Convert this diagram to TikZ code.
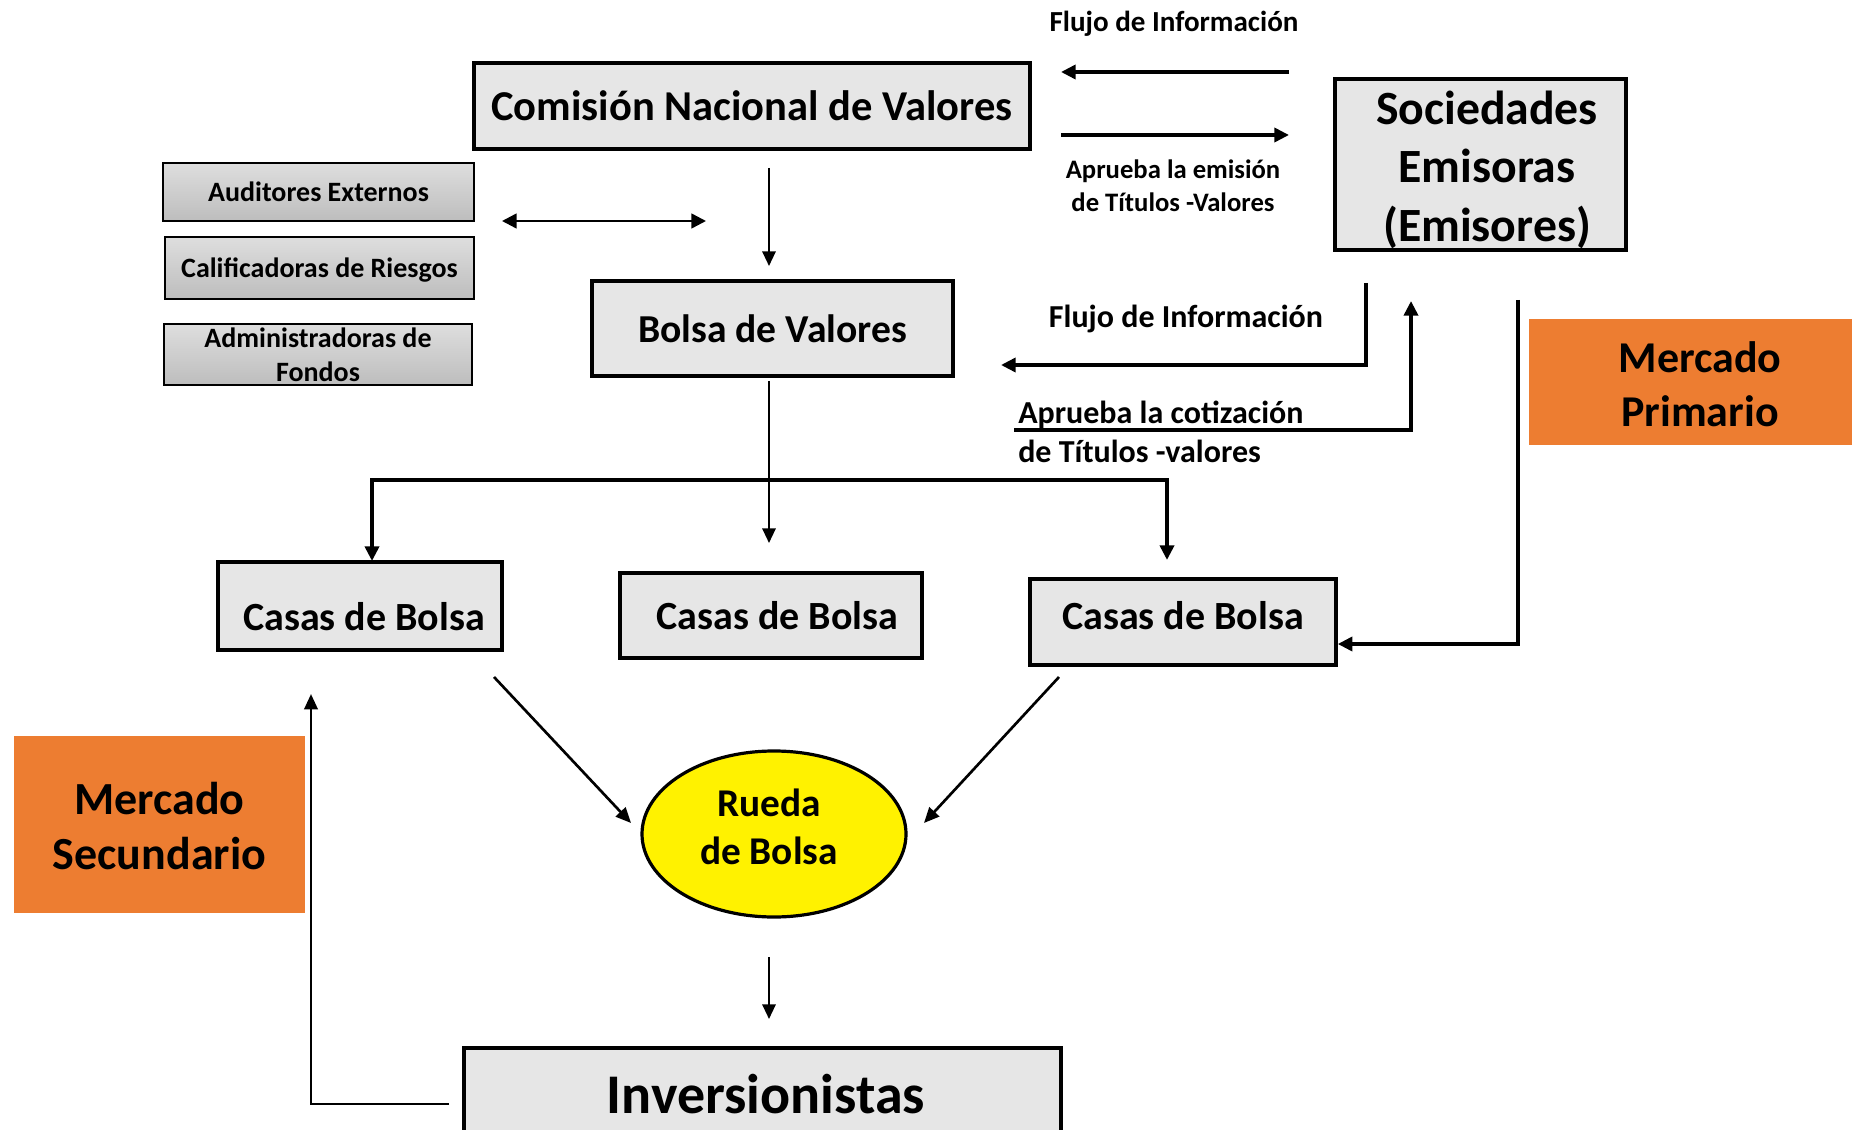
\documentclass[tikz,border=0pt]{standalone}
\usepackage{fontspec}
\setmainfont{Carlito}
\usetikzlibrary{arrows.meta,shapes.geometric}
\definecolor{boxgray}{HTML}{E6E6E6}
\definecolor{orangeM}{HTML}{ED7D31}
\definecolor{sgTop}{HTML}{DEDEDE}
\definecolor{sgBot}{HTML}{BDBDBD}
\tikzset{
  mainbox/.style={draw, line width=2.6pt, fill=boxgray, inner sep=0pt, align=center},
  smallbox/.style={draw, line width=1.2pt, top color=sgTop, bottom color=sgBot, inner sep=0pt, align=center, font=\fontsize{21}{25.5}\selectfont\bfseries},
  orangebox/.style={fill=orangeM, inner sep=0pt, align=center},
  lbl/.style={inner sep=0pt, align=center},
  casasfont/.style={font=\fontsize{30}{36}\selectfont\bfseries},
  thk/.style={line width=2.7pt, -{Triangle[length=11pt,width=10.5pt]}},
  med/.style={line width=2pt, -{Triangle[length=11.5pt,width=10pt]}},
  thn/.style={line width=1.6pt, -{Triangle[length=11pt,width=10pt]}}
}
\begin{document}
\begin{tikzpicture}[x=0.75pt,y=-0.75pt]
\useasboundingbox (0,0) rectangle (1852,1130);
\clip (0,0) rectangle (1852,1130);

% boxes
\node[mainbox, minimum width=417pt, minimum height=64.5pt, font=\fontsize{31.9}{38}\selectfont\bfseries] (com) at (752,106) {Comisión Nacional de Valores};
\node[mainbox, minimum width=218.25pt, minimum height=128.25pt] (soc) at (1480.5,164.5) {};
\node[lbl, font=\fontsize{35.8}{43.8}\selectfont\bfseries] (socT) at (1487,169.5) {Sociedades\\Emisoras\\(Emisores)};
\node[smallbox, minimum width=233.25pt, minimum height=43.5pt] (aud) at (318.5,192) {Auditores Externos};
\node[smallbox, minimum width=231.75pt, minimum height=46.5pt, text depth=0pt] (cal) at (319.5,268) {Calificadoras de Riesgos};
\node[smallbox, minimum width=231pt, minimum height=45.75pt] (adm) at (318,354.5) {Administradoras de\\Fondos};
\node[mainbox, minimum width=270.75pt, minimum height=71.25pt, font=\fontsize{29.7}{35}\selectfont\bfseries] (bol) at (772.5,328.5) {Bolsa de Valores};
\node[mainbox, minimum width=213pt, minimum height=66pt] (cb1) at (360,606) {};
\node[lbl, casasfont] (cb1T) at (364,617) {Casas de Bolsa};
\node[mainbox, minimum width=226.5pt, minimum height=63.75pt] (cb2) at (771,615.5) {};
\node[lbl, casasfont] (cb2T) at (777.5,615.5) {Casas de Bolsa};
\node[mainbox, minimum width=229.5pt, minimum height=64.5pt] (cb3) at (1183,622) {};
\node[lbl, casasfont] (cb3T) at (1183,616) {Casas de Bolsa};
\node[ellipse, draw, line width=2.4pt, fill=yellow, inner sep=0pt, minimum width=198pt, minimum height=124.5pt] (rue) at (774,834) {};
\node[lbl, font=\fontsize{29.5}{35.5}\selectfont\bfseries] (rueT) at (769,827) {Rueda\\de Bolsa};
\node[mainbox, minimum width=447.75pt, minimum height=69pt] (inv) at (762.5,1094) {};
\node[lbl, font=\fontsize{42}{48}\selectfont\bfseries] (invT) at (766,1094) {Inversionistas};
\node[orangebox, minimum width=242.25pt, minimum height=94.5pt] (mp) at (1690.5,382) {};
\node[lbl, font=\fontsize{33}{40.5}\selectfont\bfseries] (mpT) at (1700,384) {Mercado\\Primario};
\node[orangebox, minimum width=218.25pt, minimum height=132.75pt] (ms) at (159.5,824.5) {};
\node[lbl, font=\fontsize{34.5}{41.5}\selectfont\bfseries] (msT) at (159.5,826) {Mercado\\Secundario};

% labels
\node[lbl, font=\fontsize{21.8}{26}\selectfont\bfseries] (t1) at (1174,23.5) {Flujo de Información};
\node[lbl, font=\fontsize{20}{24.75}\selectfont\bfseries] (t2) at (1173,185.5) {Aprueba la emisión\\de Títulos -Valores};
\node[lbl, font=\fontsize{24}{29}\selectfont\bfseries] (t3) at (1186,318.5) {Flujo de Información};
\node[lbl, anchor=west, align=left, font=\fontsize{24}{29}\selectfont\bfseries] (t4) at (1018,432) {Aprueba la cotización\\de Títulos -valores};

% free ends
\coordinate (a1s) at (1289,72);  \coordinate (a1e) at (1061,72);
\coordinate (a2s) at (1061,135); \coordinate (a2e) at (1289,135);
\coordinate (d1) at (502,221);   \coordinate (d2) at (706,221);
\coordinate (cbs) at (769,168);  \coordinate (cbe) at (769,266);
\coordinate (bds) at (769,381);  \coordinate (bde) at (769,543);
\coordinate (brL) at (372,480);  \coordinate (brR) at (1167,480);
\coordinate (c1a) at (372,561);  \coordinate (c3a) at (1167,560);
\coordinate (fs) at (1366,283);  \coordinate (fc) at (1366,365); \coordinate (fe) at (1001,365);
\coordinate (qs) at (1014,430);  \coordinate (qc) at (1411,430); \coordinate (qe) at (1411,301);
\coordinate (rs) at (1518,300);  \coordinate (rc) at (1518,644);
\coordinate (r1s) at (494,677);  \coordinate (r1e) at (631,823);
\coordinate (r3s) at (1059,677); \coordinate (r3e) at (924,823);
\coordinate (ris) at (769,957);  \coordinate (rie) at (769,1019);
\coordinate (is) at (449,1104);  \coordinate (ic) at (311,1104); \coordinate (ie) at (311,694);

% connectors
\draw[thk] (a1s) -- (a1e);
\draw[thk] (a2s) -- (a2e);
\draw[line width=1.9pt, {Triangle[length=11pt,width=11pt]}-{Triangle[length=11pt,width=11pt]}] (d1) -- (d2);
\draw[thn] (cbs) -- (cbe);
\draw[thn] (bds) -- (bde);
\draw[line width=2.9pt, {Triangle[length=11pt,width=10.5pt]}-{Triangle[length=11pt,width=10.5pt]}] (c1a) -- (brL) -- (brR) -- (c3a);
\draw[thk] (fs) -- (fc) -- (fe);
\draw[thk] (qs) -- (qc) -- (qe);
\draw[thk] (rs) -- (rc) -- (cb3.east |- rc);
\draw[med] (r1s) -- (r1e);
\draw[med] (r3s) -- (r3e);
\draw[thn] (ris) -- (rie);
\draw[med] (is) -- (ic) -- (ie);
\end{tikzpicture}
\end{document}
